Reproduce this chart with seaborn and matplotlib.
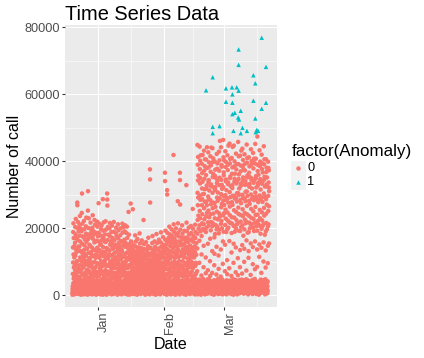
import matplotlib
matplotlib.use("Agg")
import matplotlib.pyplot as plt
import matplotlib.dates as mdates
from matplotlib.patches import Rectangle
import pandas as pd
import seaborn as sns

BASE = pd.Timestamp("2015-01-01")

# Number of calls (in hundreds), one list per day, readings spread over the day
dec_start = -12  # Dec 20
dec_calls = [
    [7,1,18,26,13,63,142,97,188,35,214,121,49,170,82,35,58,84,112,146],
    [2,22,11,29,5,156,74,203,118,41,181,92,227,137,58,44,67,99,128,170],
    [15,4,25,9,20,101,276,268,47,165,132,199,71,218,86,38,33,55,78,145,190],
    [10,27,3,16,23,144,53,209,89,177,31,236,112,160,68,47,73,104,131,198],
    [1,19,8,28,14,190,77,127,245,39,303,153,99,213,60,36,62,88,116,175],
    [24,6,17,2,29,84,172,45,221,134,107,196,56,148,36,41,66,95,122,165],
    [12,3,26,9,21,63,205,117,183,91,231,44,159,75,139,32,54,101,138,178],
    [5,18,1,30,14,252,310,94,167,51,200,126,72,229,40,48,71,85,110,150],
    [20,8,27,4,16,108,183,64,146,35,216,97,174,53,128,38,59,90,121,193],
    [9,23,2,15,28,141,49,201,116,81,238,168,33,192,62,45,70,97,135,180],
    [3,17,11,25,6,78,157,224,99,187,43,133,70,210,119,34,57,83,111,160],
    [26,7,19,1,13,120,66,185,38,162,95,219,141,54,204,42,68,92,130,175],
]
jan_start = 0
jan_calls = [
    [4,21,14,29,8,274,93,186,57,135,213,41,160,111,72,37,62,81,118,150],
    [18,2,25,11,22,152,39,101,197,68,124,177,47,208,85,45,71,93,130,165],
    [7,28,15,1,19,286,62,143,35,192,116,170,88,217,51,34,55,98,125,160],
    [23,10,3,27,13,104,49,181,129,74,220,158,38,195,91,41,66,87,115,140],
    [1,16,26,9,20,303,285,267,70,164,45,137,203,110,59,36,58,90,121,180],
    [14,5,29,18,24,86,199,132,42,176,61,215,150,100,33,47,70,95,118,160],
    [11,27,6,21,2,188,79,154,37,119,207,58,171,94,142,33,52,84,106,138],
    [25,8,17,3,28,67,140,218,103,52,189,125,36,163,81,43,64,91,112,150],
    [6,19,12,26,10,147,40,184,92,201,128,65,174,113,50,38,60,79,104,142],
    [16,1,23,9,27,98,211,56,169,134,31,193,77,155,117,46,68,89,120,145],
    [21,13,4,30,7,43,122,178,71,199,106,145,55,161,88,35,57,82,110,135],
    [2,24,15,10,19,131,60,213,96,186,37,158,115,73,202,40,63,86,117,148],
    [28,9,20,5,14,76,165,46,122,190,99,34,144,208,57,44,66,92,113,155],
    [12,3,26,17,22,185,102,61,148,39,204,127,83,170,48,36,59,80,109,141],
    [8,23,1,13,29,248,66,138,42,180,107,30,152,89,121,42,61,88,115,130],
    [19,6,25,11,2,273,54,126,87,160,35,111,143,70,99,36,48,62,80,120],
    [4,16,28,9,21,256,93,45,135,68,150,31,116,80,104,42,55,74,96,126],
    [26,12,3,18,7,61,130,178,40,97,145,74,121,52,160,33,47,67,85,110],
    [10,29,14,1,23,115,36,88,167,57,132,102,44,142,77,39,52,71,92,122],
    [22,5,17,27,11,66,139,48,184,95,120,33,154,81,108,45,58,78,101,131],
    [3,20,9,25,15,140,59,107,37,163,84,128,46,99,71,35,50,69,88,115],
    [17,28,6,12,24,224,90,43,137,65,152,113,31,79,124,41,54,73,94,107],
    [8,1,21,14,27,110,38,84,158,51,121,70,136,95,42,37,49,65,86,126],
    [24,11,4,19,9,96,146,55,118,34,171,82,105,63,139,44,57,76,98,118],
    [13,26,2,22,7,375,345,276,49,124,88,141,36,106,67,34,47,63,82,103],
    [5,18,29,10,16,68,155,97,40,176,120,58,134,83,111,40,53,72,93,128],
    [20,3,13,25,8,118,47,91,160,33,126,74,144,60,101,46,59,79,104,122],
    [1,22,17,6,28,75,182,112,52,136,88,39,155,98,67,35,48,66,87,112],
    [27,9,15,4,19,102,41,139,78,165,57,118,92,130,35,42,56,75,97,120],
    [11,2,23,18,26,80,157,64,187,110,44,144,96,127,53,38,51,70,90,116],
    [16,25,7,29,12,124,69,173,38,138,94,56,150,83,112,43,58,77,99,131],
]
feb_start = 31
feb_calls = [
    [6,19,27,3,14,365,340,85,165,48,192,124,96,141,62,36,58,77,108,152],
    [23,8,1,17,29,313,300,42,118,185,79,158,33,134,101,43,64,92,121,170],
    [12,26,16,5,21,92,204,51,172,131,70,181,37,146,109,34,56,81,115,160],
    [2,15,24,10,28,154,40,196,82,128,60,176,115,36,97,41,69,93,140,165],
    [18,4,13,27,8,418,88,211,127,47,188,145,68,168,99,38,59,79,110,155],
    [9,22,30,14,1,81,161,38,199,120,57,179,133,87,150,45,67,96,125,144],
    [25,7,19,11,24,280,95,214,53,186,135,72,175,113,44,35,57,84,101,160],
    [4,17,28,2,13,365,343,270,78,195,117,157,39,148,64,42,62,89,128,172],
    [21,10,6,26,16,86,208,126,43,183,67,167,101,136,55,37,60,78,114,150],
    [14,29,3,20,9,152,74,192,34,113,171,58,125,90,139,44,66,95,130,160],
    [7,1,22,15,27,328,90,216,45,130,190,71,171,143,97,36,55,82,109,158],
    [28,12,18,5,23,122,44,201,82,162,39,180,105,134,66,40,63,91,118,148],
    [3,20,9,26,11,84,166,59,206,125,43,185,94,139,112,47,70,98,127,163],
    [16,6,25,13,30,257,80,198,35,159,119,176,50,131,85,33,58,86,112,145],
    [10,24,2,19,7,128,49,210,87,170,61,188,142,96,37,41,65,93,120,155],
    [5,31,12,44,22,2,71,139,183,448,305,224,389,268,342,412,291,356,237,198],
    [18,3,39,9,27,46,96,162,208,443,251,376,297,333,229,401,349,284,190,417],
    [10,42,1,24,15,35,58,121,176,392,268,318,214,364,286,241,338,418,197,301],
    [36,7,20,48,13,28,83,147,211,302,431,259,371,226,347,193,385,316,278,405],
    [2,25,41,16,33,8,112,65,188,358,235,404,279,318,201,379,327,268,441,246],
    [29,14,4,38,21,47,74,153,217,294,426,337,252,381,207,343,286,396,232,312],
    [11,45,26,6,35,19,101,57,168,283,414,241,368,193,325,387,271,330,218,440],
    [40,3,17,30,9,24,66,131,205,438,305,259,352,214,397,276,408,361,243,321],
    [8,34,22,1,44,14,89,172,123,274,399,229,356,182,313,374,322,263,209,350],
    [23,6,37,12,29,43,61,144,196,421,249,334,291,377,204,393,341,281,226,306],
    [15,48,3,27,10,32,118,78,184,287,428,244,371,195,328,402,350,289,234,460],
    [4,20,41,13,36,7,55,136,212,441,301,262,344,221,388,383,329,272,199,317],
    [33,11,26,46,2,18,93,160,238,463,322,282,411,189,366,357,295,244,402,269],
]
mar_start = 59
mar_calls = [
    [9,39,14,30,5,24,71,150,209,429,298,255,382,228,339,397,345,284,188,313],
    [26,2,44,17,35,11,104,62,197,417,289,246,373,222,331,389,336,276,201,446],
    [13,31,6,42,21,38,80,161,217,452,307,264,393,238,349,406,354,292,215,325],
    [43,16,28,3,12,34,57,127,185,409,277,232,362,213,319,381,328,269,442,296],
    [7,25,40,19,47,1,96,153,206,446,296,253,384,231,338,399,347,288,189,362],
    [30,9,15,36,22,45,68,142,199,422,290,248,375,224,333,390,339,279,211,304],
    [2,41,24,10,33,16,110,59,215,457,304,261,391,242,346,414,360,299,192,318],
    [37,19,5,28,45,12,83,134,191,416,284,239,369,219,326,386,333,274,203,431],
    [14,32,46,8,21,39,64,149,208,437,299,256,386,235,341,403,351,290,177,376],
    [25,4,18,43,11,29,99,138,196,420,288,245,372,225,329,392,340,280,214,308],
    [6,38,13,24,47,20,73,163,218,449,309,266,395,241,351,409,357,296,186,330],
    [44,15,31,2,27,9,111,131,188,411,281,236,365,216,323,384,331,272,199,352],
    [19,35,7,40,14,26,60,154,210,435,300,257,389,230,343,400,348,287,212,318],
    [31,8,45,17,3,22,92,143,201,424,292,250,378,227,335,395,342,283,191,407],
    [12,42,27,6,34,48,77,160,216,451,306,263,392,239,348,407,355,294,205,321],
    [3,23,16,38,9,30,84,136,192,473,285,240,370,221,327,388,335,277,211,359],
    [40,11,29,1,20,36,114,151,207,432,297,254,385,229,340,398,346,285,183,315],
    [21,46,6,33,15,27,66,141,198,419,291,247,376,223,332,393,338,278,206,366],
    [8,28,39,13,44,18,100,157,213,444,303,260,390,237,345,405,353,293,180,324],
    [34,2,22,47,10,25,82,133,190,405,286,243,367,215,324,380,330,270,196,351],
    [17,37,5,26,41,12,95,147,205,398,296,251,379,211,336,372,321,265,154,310],
]

# Anomalies: day offset from Jan 1 and number of calls (thousands)
anom_day = [76.5, 65.7, 65.7, 78.5, 72.6, 53.6, 73.5, 50.5, 59.8, 62.6, 64.8,
            65.7, 62.8, 59.8, 62.8, 72.6, 78.5, 76.5, 66.7, 62.8, 63.9, 65.5,
            65.9, 73.5, 53.6, 56.8, 53.6, 63.3, 67.5, 69.6, 74.2, 74.8, 73.7, 66.7]
anom_calls = [76.8, 73.3, 68.7, 68.1, 65.6, 65.0, 63.2, 61.1, 61.7, 62.0, 62.0,
              61.0, 59.9, 57.7, 57.4, 58.0, 57.4, 55.6, 55.0, 54.0, 54.4, 53.0,
              52.4, 52.7, 50.2, 50.4, 48.3, 49.0, 49.9, 49.0, 49.3, 49.0, 48.6, 48.3]

rows = []
for start, month in [(dec_start, dec_calls), (jan_start, jan_calls),
                     (feb_start, feb_calls), (mar_start, mar_calls)]:
    for k, vals in enumerate(month):
        n = len(vals)
        for i, v in enumerate(vals):
            rows.append((BASE + pd.Timedelta(days=start + k + (i + 0.5) / n), v * 100, "0"))
for d, c in zip(anom_day, anom_calls):
    rows.append((BASE + pd.Timedelta(days=d), c * 1000, "1"))
df = pd.DataFrame(rows, columns=["Date", "Calls", "Anomaly"])

sns.set_theme(style="darkgrid")
plt.rcParams["font.family"] = ["Liberation Sans", "DejaVu Sans"]

W, H = 424, 358
fig = plt.figure(figsize=(W / 72, H / 72), dpi=72)
fig.patch.set_facecolor("white")
L, R, T, B = 65, 277, 25, 307
ax = fig.add_axes([L / W, 1 - B / H, (R - L) / W, (B - T) / H])
ax.set_facecolor("#EBEBEB")
for s in ax.spines.values():
    s.set_visible(False)

red, cyan = "#F8766D", "#00BFC4"
sns.scatterplot(data=df, x="Date", y="Calls", hue="Anomaly", style="Anomaly",
                palette={"0": red, "1": cyan}, markers={"0": "o", "1": "^"},
                s=20, linewidth=0, legend=False, ax=ax, zorder=3)

base_num = mdates.date2num(BASE)
ax.set_xlim(base_num - 15.42, base_num + 83.64)
ax.set_ylim(-3580, 80600)

ax.set_yticks([0, 20000, 40000, 60000, 80000])
ax.set_yticklabels(["0", "20000", "40000", "60000", "80000"])
ax.set_yticks([10000, 30000, 50000, 70000], minor=True)
ax.set_xticks([base_num, base_num + 31, base_num + 59])
ax.set_xticklabels(["Jan", "Feb", "Mar"])
ax.set_xticks([base_num + 15.5, base_num + 44.5, base_num + 74.5], minor=True)

ax.grid(which="major", color="white", linewidth=1.07)
ax.grid(which="minor", color="white", linewidth=0.53)
ax.set_axisbelow(True)
ax.tick_params(which="major", length=2.75, width=1.07, color="#333333",
               labelcolor="#4D4D4D", labelsize=12.8, pad=2.2,
               bottom=True, left=True)
ax.tick_params(which="minor", length=0)
for lab in ax.get_xticklabels():
    lab.set_rotation(90)
    lab.set_ha("left")
    lab.set_va("top")

ax.set_xlabel("Date", fontsize=16, color="black", labelpad=3)
ax.set_ylabel("Number of call", fontsize=16, color="black", labelpad=2)
ax.set_title("Time Series Data", loc="left", fontsize=20, color="black", pad=5)

# legend
lg = fig.add_axes([0, 0, 1, 1])
lg.set_xlim(0, W)
lg.set_ylim(H, 0)
lg.axis("off")
lg.text(291.5, 156, "factor(Anomaly)", fontsize=17, color="black", va="baseline", ha="left")
lg.add_patch(Rectangle((291, 160.5), 14.6, 14.6, fc="#F2F2F2", ec="none"))
lg.add_patch(Rectangle((291, 175.1), 14.6, 14.6, fc="#F2F2F2", ec="none"))
lg.scatter([298.3], [167.8], s=20, marker="o", color=red, linewidths=0)
lg.scatter([298.3], [182.4], s=20, marker="^", color=cyan, linewidths=0)
lg.text(307, 167.8, "0", fontsize=12.8, color="black", va="center", ha="left")
lg.text(307, 182.4, "1", fontsize=12.8, color="black", va="center", ha="left")

fig.savefig("out.png", dpi=72)
